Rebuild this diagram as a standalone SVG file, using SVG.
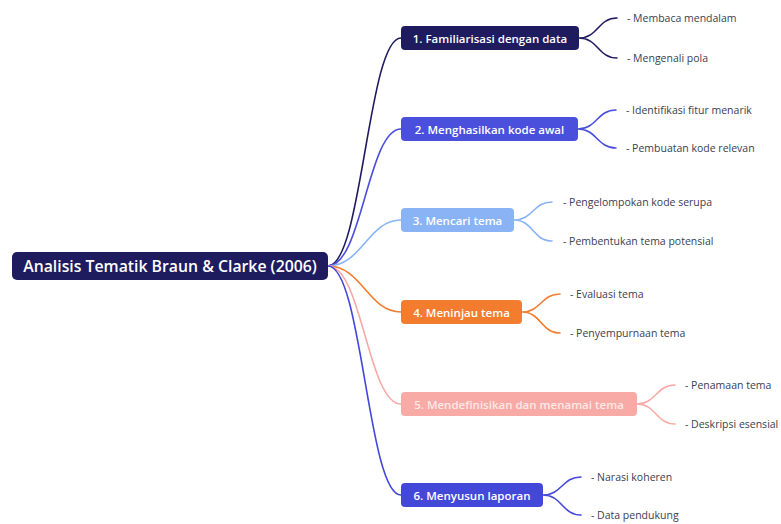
<svg xmlns="http://www.w3.org/2000/svg" width="781" height="524" viewBox="0 0 781 524">
<style>
.box{stroke:none}
.bt{font-family:"Open Sans","Noto Sans","Liberation Sans",sans-serif;font-size:11.5px;font-weight:600;fill:#ffffff;dominant-baseline:central}
.rt{font-family:"Open Sans","Noto Sans","Liberation Sans",sans-serif;font-size:15.8px;font-weight:600;fill:#ffffff;dominant-baseline:central}
.lt{font-family:"Open Sans","Noto Sans","Liberation Sans",sans-serif;font-size:10.5px;fill:#3b4050;dominant-baseline:central}
.c{fill:none;stroke-width:1.6;stroke-linecap:round}
</style>
<rect width="781" height="524" fill="#ffffff"/>
<g id="connectors">
<path class="c" stroke="#1e1c5e" d="M328 266 C362 266 368 38 401 38"/>
<path class="c" stroke="#4a4fdc" d="M328 266 C362 266 368 129 401 129"/>
<path class="c" stroke="#8ab3f6" d="M328 266 C362 266 368 220 401 220"/>
<path class="c" stroke="#f47c2e" d="M328 266 C362 266 368 312 401 312"/>
<path class="c" stroke="#f8aaa6" d="M328 266 C362 266 368 404 401 404"/>
<path class="c" stroke="#4348d9" d="M328 266 C362 266 368 495 401 495"/>
<path class="c" stroke="#1e1c5e" d="M579 38 C598 38 598 18 617 18 M579 38 C598 38 598 58 617 58"/>
<path class="c" stroke="#4a4fdc" d="M578 129 C597 129 597 110 616 110 M578 129 C597 129 597 148 616 148"/>
<path class="c" stroke="#8ab3f6" d="M514 220 C533 220 533 202 552 202 M514 220 C533 220 533 241 552 241"/>
<path class="c" stroke="#f47c2e" d="M522 312 C541 312 541 294 560 294 M522 312 C541 312 541 333 560 333"/>
<path class="c" stroke="#f8aaa6" d="M637 404 C656 404 656 385 675 385 M637 404 C656 404 656 424 675 424"/>
<path class="c" stroke="#4348d9" d="M543 495 C562 495 562 477 581 477 M543 495 C562 495 562 515 581 515"/>
</g>
<g id="root">
<rect class="box" x="12" y="252" width="316" height="28" rx="5" fill="#1e1c5e"/>
<text class="rt" x="170" y="266" text-anchor="middle">Analisis Tematik Braun &amp; Clarke (2006)</text>
</g>
<g id="n1">
<rect class="box" x="401" y="26" width="178" height="24" rx="4" fill="#1e1c5e"/>
<text class="bt" x="490" y="38" text-anchor="middle">1. Familiarisasi dengan data</text>
</g>
<g id="n1a"><text class="lt" x="627" y="18">- Membaca mendalam</text></g>
<g id="n1b"><text class="lt" x="627" y="58">- Mengenali pola</text></g>
<g id="n2">
<rect class="box" x="401" y="117" width="177" height="24" rx="4" fill="#4a4fdc"/>
<text class="bt" x="489.5" y="129" text-anchor="middle">2. Menghasilkan kode awal</text>
</g>
<g id="n2a"><text class="lt" x="626" y="110">- Identifikasi fitur menarik</text></g>
<g id="n2b"><text class="lt" x="626" y="148">- Pembuatan kode relevan</text></g>
<g id="n3">
<rect class="box" x="401" y="208" width="113" height="24" rx="4" fill="#8ab3f6"/>
<text class="bt" x="457.5" y="220" text-anchor="middle">3. Mencari tema</text>
</g>
<g id="n3a"><text class="lt" x="563" y="202">- Pengelompokan kode serupa</text></g>
<g id="n3b"><text class="lt" x="563" y="241">- Pembentukan tema potensial</text></g>
<g id="n4">
<rect class="box" x="401" y="300" width="121" height="24" rx="4" fill="#f47c2e"/>
<text class="bt" x="461.5" y="312" text-anchor="middle">4. Meninjau tema</text>
</g>
<g id="n4a"><text class="lt" x="570" y="294">- Evaluasi tema</text></g>
<g id="n4b"><text class="lt" x="570" y="333">- Penyempurnaan tema</text></g>
<g id="n5">
<rect class="box" x="401" y="392" width="236" height="24" rx="4" fill="#f8aaa6"/>
<text class="bt" x="519" y="404" text-anchor="middle" style="fill:#fde9e7">5. Mendefinisikan dan menamai tema</text>
</g>
<g id="n5a"><text class="lt" x="685" y="385">- Penamaan tema</text></g>
<g id="n5b"><text class="lt" x="685" y="424">- Deskripsi esensial</text></g>
<g id="n6">
<rect class="box" x="401" y="483" width="142" height="24" rx="4" fill="#4348d9"/>
<text class="bt" x="472" y="495" text-anchor="middle">6. Menyusun laporan</text>
</g>
<g id="n6a"><text class="lt" x="591" y="477">- Narasi koheren</text></g>
<g id="n6b"><text class="lt" x="591" y="515">- Data pendukung</text></g>
</svg>
